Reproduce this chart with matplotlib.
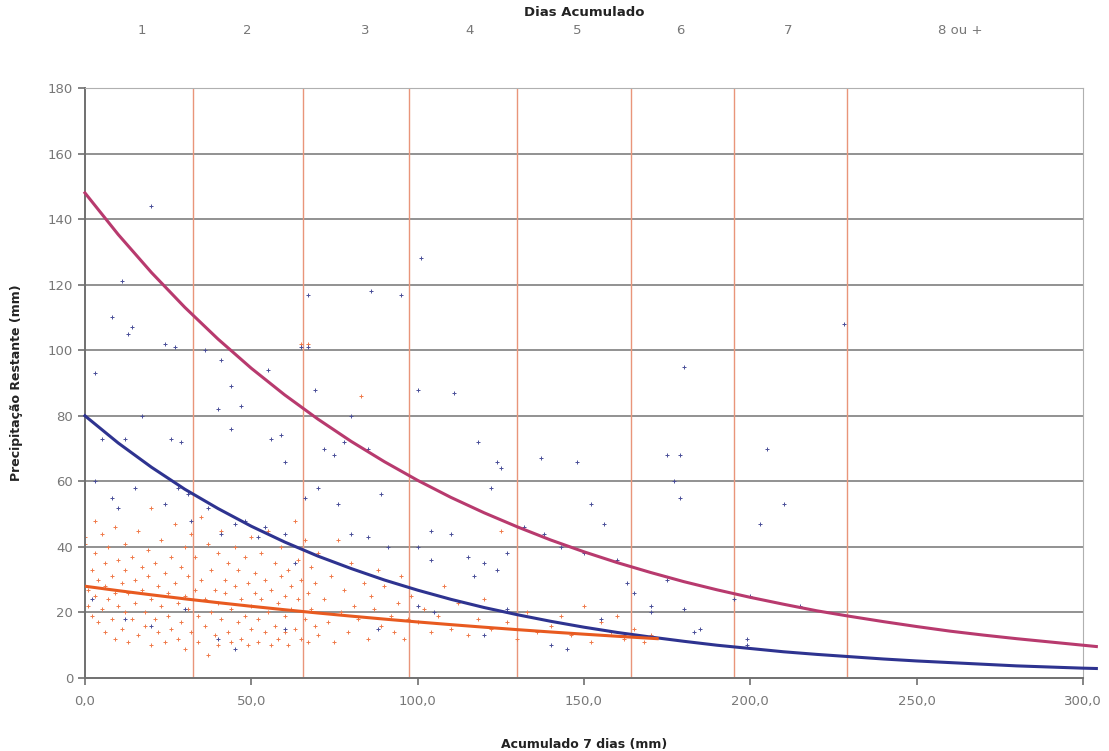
import matplotlib.pyplot as plt
from matplotlib.ticker import FuncFormatter

# scatter points (x = acumulado 7 dias, y = precipitação restante)
blue_x = [20, 11, 8, 14, 13, 24, 27, 36, 41, 3, 65, 67, 67, 86, 95, 101, 55, 100, 111, 228,
          44, 47, 40, 69, 44, 56, 59, 17, 12, 26, 29, 5, 72, 78, 80, 60, 75, 85, 137, 148,
          124, 118, 125, 175, 179, 177, 205, 179, 210, 203, 180, 122,
          3, 8, 10, 15, 24, 28, 31, 32, 37, 41, 45, 48, 52, 54, 60, 63, 66, 70, 76, 80,
          85, 89, 91, 100, 104, 104, 110, 115, 117, 120, 124, 127, 132, 138, 143, 150, 152, 156,
          160, 163, 165, 170, 175, 185, 195, 200, 215,
          2, 12, 20, 30, 40, 45, 60, 88, 100, 105, 120, 127, 140, 145, 155, 162, 170, 180, 183, 199, 199]
blue_y = [144, 121, 110, 107, 105, 102, 101, 100, 97, 93, 101, 101, 117, 118, 117, 128, 94, 88, 87, 108,
          89, 83, 82, 88, 76, 73, 74, 80, 73, 73, 72, 73, 70, 72, 80, 66, 68, 70, 67, 66,
          66, 72, 64, 68, 68, 60, 70, 55, 53, 47, 95, 58,
          60, 55, 52, 58, 53, 58, 56, 48, 52, 44, 47, 48, 43, 46, 44, 35, 55, 58, 53, 44,
          43, 56, 40, 40, 36, 45, 44, 37, 31, 35, 33, 38, 46, 44, 40, 38, 53, 47,
          36, 29, 26, 22, 30, 15, 24, 25, 22,
          24, 18, 16, 21, 12, 9, 15, 15, 22, 20, 13, 21, 10, 9, 18, 13, 20, 21, 14, 12, 10]

orange_x = [0, 0, 1, 1, 2, 2, 3, 3, 3, 4, 4, 5, 5, 6, 6, 6, 7, 7, 8, 8, 9, 9, 9, 10, 10,
            11, 11, 12, 12, 12, 13, 13, 14, 14, 15, 15, 16, 16, 17, 17, 18, 18, 19, 19, 20, 20, 20,
            21, 21, 22, 22, 23, 23, 24, 24, 25, 25, 26, 26, 27, 27, 28, 28, 29, 29, 30, 30, 30,
            31, 31, 32, 32, 33, 33, 34, 34, 35, 35, 36, 36, 37, 37, 38, 38, 39, 39, 40, 40, 40,
            41, 41, 42, 42, 43, 43, 44, 44, 45, 45, 46, 46, 47, 47, 48, 48, 49, 49, 50, 50, 50,
            51, 51, 52, 52, 53, 53, 54, 54, 55, 55, 56, 56, 57, 57, 58, 58, 59, 59, 60, 60, 60,
            61, 61, 62, 62, 63, 63, 64, 64, 65, 65, 66, 66, 67, 67, 68, 68, 69, 69, 70, 70,
            72, 73, 74, 75, 76, 77, 78, 79, 80, 81, 82, 83, 84, 85, 86, 87, 88, 89, 90, 92,
            93, 94, 95, 96, 97, 98,
            100, 102, 104, 106, 108, 110, 112, 115, 118, 120, 122, 125, 127, 130, 133, 136, 140,
            143, 146, 150, 152, 155, 158, 160, 162, 165, 168, 170, 65, 67]
orange_y = [43, 41, 27, 22, 33, 19, 48, 38, 25, 30, 17, 44, 21, 35, 28, 14, 40, 24, 31, 18, 46, 26, 12, 36, 22,
            29, 15, 41, 33, 20, 26, 11, 37, 18, 30, 23, 45, 13, 34, 27, 20, 16, 39, 31, 24, 10, 52,
            35, 18, 28, 14, 42, 22, 32, 11, 26, 19, 37, 15, 47, 29, 23, 12, 34, 17, 40, 25, 9,
            31, 21, 44, 14, 27, 37, 19, 11, 49, 30, 24, 16, 41, 7, 33, 20, 27, 13, 38, 23, 10,
            45, 18, 30, 26, 35, 14, 21, 11, 40, 28, 17, 33, 24, 12, 37, 19, 29, 10, 43, 22, 15,
            32, 26, 18, 11, 38, 24, 14, 30, 45, 20, 27, 10, 35, 16, 23, 12, 31, 40, 19, 25, 14,
            33, 10, 28, 21, 48, 15, 36, 24, 12, 30, 42, 18, 26, 11, 34, 21, 16, 29, 38, 13,
            24, 17, 31, 11, 42, 20, 27, 14, 35, 22, 18, 86, 29, 12, 25, 21, 33, 16, 28, 19,
            14, 23, 31, 12, 18, 25,
            17, 21, 14, 19, 28, 15, 23, 13, 18, 24, 15, 45, 17, 12, 20, 14, 16,
            19, 13, 22, 11, 17, 14, 19, 12, 15, 11, 13, 102, 102]

# trend curves, read every 10 mm along x
curve_x = [0, 10, 20, 30, 40, 50, 60, 70, 80, 90, 100, 110, 120, 130, 140, 150, 160, 170,
           180, 190, 200, 210, 220, 230, 240, 250, 260, 270, 280, 290, 300, 304]
magenta_y = [148, 135.3, 123.7, 113.1, 103.4, 94.5, 86.4, 79.0, 72.2, 66.0, 60.3, 55.1, 50.4,
             46.1, 42.1, 38.5, 35.2, 32.2, 29.4, 26.9, 24.6, 22.5, 20.5, 18.8, 17.2, 15.7,
             14.3, 13.1, 12.0, 11.0, 10.0, 9.6]
navy_y = [80, 71.7, 64.3, 57.6, 51.7, 46.3, 41.5, 37.2, 33.4, 29.9, 26.8, 24.0, 21.5, 19.3,
          17.3, 15.5, 13.9, 12.5, 11.2, 10.0, 9.0, 8.0, 7.2, 6.5, 5.8, 5.2, 4.7, 4.2, 3.7,
          3.35, 3.0, 2.9]
orange_line_x = [0, 10, 20, 30, 40, 50, 60, 70, 80, 90, 100, 110, 120, 130, 140, 150, 160, 170, 172]
orange_line_y = [28, 26.65, 25.37, 24.15, 22.99, 21.88, 20.83, 19.83, 18.88, 17.97, 17.10,
                 16.28, 15.50, 14.75, 14.04, 13.37, 12.73, 12.12, 12.0]

# class limits for "Dias Acumulado"
day_edges = [32.5, 65.5, 97.5, 130, 164, 195, 229]
day_labels = ['1', '2', '3', '4', '5', '6', '7', '8 ou +']
day_label_x = [17, 48.7, 84.2, 115.7, 148, 178.8, 211.3, 263]

fig = plt.figure(figsize=(11.09, 7.51), dpi=100)
ax = fig.add_axes([0.0766, 0.0972, 0.9, 0.7856])

ax.set_xlim(0, 300)
ax.set_ylim(0, 180)

for yv in range(20, 181, 20):
    ax.axhline(yv, color='#929292', lw=1.4, zorder=1)
for xv in day_edges:
    ax.axvline(xv, color='#e9957a', lw=1.0, zorder=1)

ax.plot(orange_x, orange_y, '+', color='#f07a4a', ms=3, mew=0.7, zorder=2)
ax.plot(blue_x, blue_y, '+', color='#4a4f98', ms=3, mew=0.7, zorder=3)

ax.plot(curve_x, magenta_y, color='#b83a6e', lw=2.2, zorder=4, clip_on=False)
ax.plot(curve_x, navy_y, color='#2e3390', lw=2.2, zorder=4, clip_on=False)
ax.plot(orange_line_x, orange_line_y, color='#e85a20', lw=2.2, zorder=5)

for side in ['top', 'right']:
    ax.spines[side].set_color('#b0b0b0')
for side in ['left', 'bottom']:
    ax.spines[side].set_color('#707070')
    ax.spines[side].set_linewidth(1.4)

ax.set_xticks(range(0, 301, 50))
ax.set_yticks(range(0, 181, 20))
ax.xaxis.set_major_formatter(FuncFormatter(lambda v, p: f'{v:.1f}'.replace('.', ',')))
ax.tick_params(axis='both', colors='#707070', labelcolor='#777777', labelsize=9.5, length=5, width=1.2)
ax.tick_params(axis='x', pad=7)

ax.set_xlabel('Acumulado 7 dias (mm)', fontsize=9, fontweight='bold', color='#222222', labelpad=22)
ax.set_ylabel('Precipitação Restante (mm)', fontsize=9, fontweight='bold', color='#222222', labelpad=18)

for lx, lab in zip(day_label_x, day_labels):
    ax.text(lx, 1.098, lab, transform=ax.get_xaxis_transform(), ha='center', va='center',
            fontsize=9.5, color='#777777')
ax.text(150, 1.128, 'Dias Acumulado', transform=ax.get_xaxis_transform(), ha='center', va='center',
        fontsize=9.5, fontweight='bold', color='#222222')

fig.savefig('out.png', dpi=100)
